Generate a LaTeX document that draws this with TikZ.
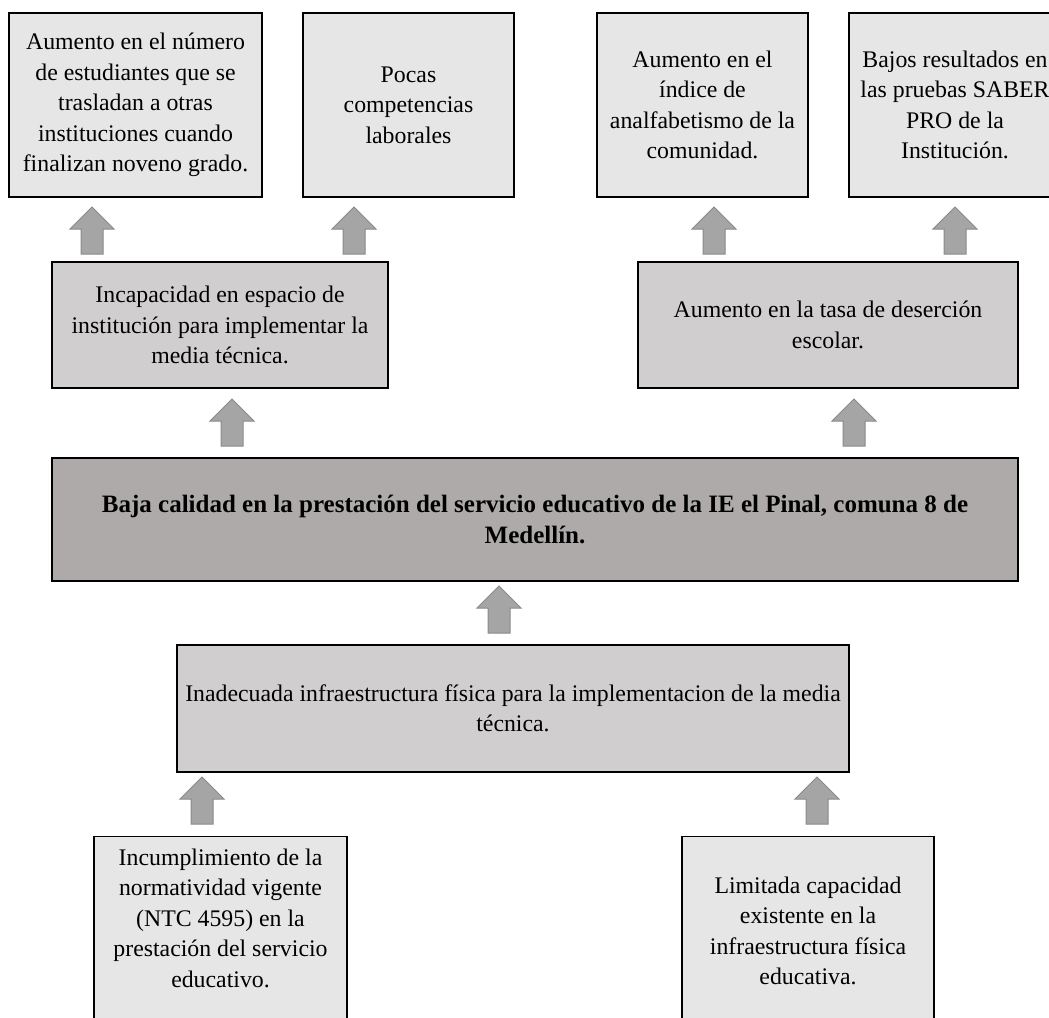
\documentclass[tikz,border=0pt]{standalone}
\usepackage{fontspec}
\setmainfont{Liberation Serif}
\definecolor{boxlight}{HTML}{E7E6E6}
\definecolor{boxmid}{HTML}{D0CECE}
\definecolor{boxdark}{HTML}{AEAAAA}
\definecolor{arrfill}{HTML}{A5A5A5}
\definecolor{arrline}{HTML}{8A8A8A}
\begin{document}
\begin{tikzpicture}[x=1pt, y=-1pt, font=\fontsize{23.8}{30.5}\selectfont,
	box/.style={draw=black, line width=1.4pt, align=center, inner sep=0pt},
	light/.style={box, fill=boxlight},
	mid/.style={box, fill=boxmid},
	uparr/.pic={\draw[arrline, fill=arrfill, line width=1pt] (-11,0)--(-11,-25)--(-22,-25)--(0,-47)--(22,-25)--(11,-25)--(11,0)--cycle;}]
	\useasboundingbox (0,0) rectangle (1049,1017);
	\clip (0,0) rectangle (1049,1017);
	% efectos
	\node[light, minimum width=253, minimum height=184] (ef1) at (135.5,105) {Aumento en el número\\de estudiantes que se\\trasladan a otras\\instituciones cuando\\finalizan noveno grado.};
	\node[light, minimum width=211, minimum height=184] (ef2) at (408.5,105) {Pocas\\competencias\\laborales};
	\node[light, minimum width=211, minimum height=184] (ef3) at (702.5,105) {Aumento en el\\índice de\\analfabetismo de la\\comunidad.};
	\node[light, minimum width=212, minimum height=184] (ef4) at (955,105) {Bajos resultados en\\las pruebas SABER\\PRO de la\\Institución.};
	\node[mid, minimum width=336, minimum height=126] (ef5) at (220,325) {Incapacidad en espacio de\\institución para implementar la\\media técnica.};
	\node[mid, minimum width=380, minimum height=126] (ef6) at (828,325) {Aumento en la tasa de deserción\\escolar.};
	% problema central
	\node[box, fill=boxdark, minimum width=966, minimum height=123, font=\fontsize{25}{30.5}\selectfont\bfseries] (pc) at (535,519.5) {Baja calidad en la prestación del servicio educativo de la IE el Pinal, comuna 8 de\\Medellín.};
	% causas
	\node[mid, minimum width=672, minimum height=127] (ca1) at (513,708.5) {Inadecuada infraestructura física para la implementacion de la media\\técnica.};
	\node[light, minimum width=253, minimum height=220, anchor=north] (ca2) at (220.5,836) {};
	\node[align=center] (ca2t) at (220.5,918) {Incumplimiento de la\\normatividad vigente\\(NTC 4595) en la\\prestación del servicio\\educativo.};
	\node[light, minimum width=252, minimum height=220, anchor=north] (ca3) at (808,836) {};
	\node[align=center] (ca3t) at (808,931) {Limitada capacidad\\existente en la\\infraestructura física\\educativa.};
	% flechas
	\foreach \px/\py in {92/254,354/254,714/254,955/254,232/446,854/446,499/633,202/824,817/824}
	\pic at (\px,\py) {uparr};
\end{tikzpicture}
\end{document}
